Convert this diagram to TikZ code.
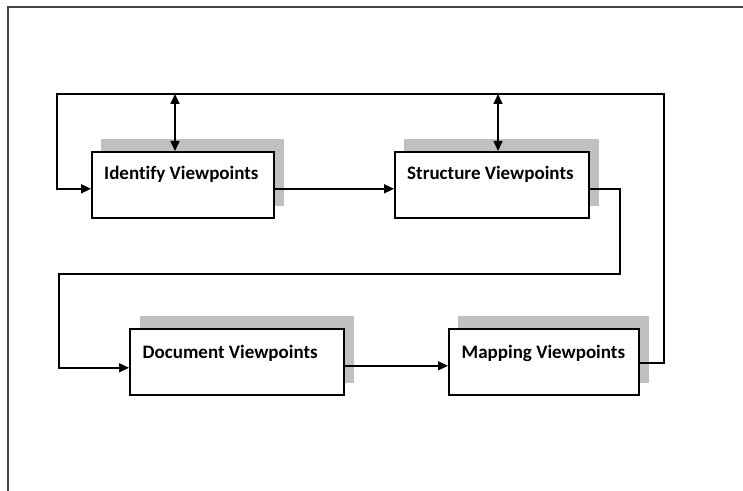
\documentclass[tikz,border=0pt]{standalone}
\usepackage{fontspec}
\setmainfont{Carlito}[Ligatures=NoCommon]
\usetikzlibrary{arrows.meta}
\definecolor{shadowgray}{RGB}{192,192,192}
\definecolor{framegray}{RGB}{70,70,70}
\tikzset{
  stagebox/.style={draw=black, fill=white, line width=1.6bp, minimum width=183bp, minimum height=66bp, anchor=north west, inner sep=0pt},
  stagelbl/.style={anchor=base west, inner sep=0pt, font=\fontsize{19bp}{22bp}\selectfont\bfseries},
  conn/.style={draw=black, line width=1.6bp},
  arr/.style={conn, -{Triangle[length=10bp, width=9bp]}},
  dblarr/.style={conn, {Triangle[length=10bp, width=9bp]}-{Triangle[length=10bp, width=9bp]}},
}
\begin{document}
\begin{tikzpicture}[x=1bp, y=-1bp]
\useasboundingbox (0,0) rectangle (743,491);
\fill[white] (0,0) rectangle (743,491);
% frame
\draw[framegray, line width=2bp] (7.5,491) -- (7.5,7.5) -- (743,7.5);

% shadows
\fill[shadowgray] (101,139) rectangle (284,206);
\fill[shadowgray] (404,139) rectangle (599,206);
\fill[shadowgray] (140,316) rectangle (354,383);
\fill[shadowgray] (458,316) rectangle (649,383);

% boxes
\node[stagebox, minimum width=182bp] (id) at (91,151) {};
\node[stagebox, minimum width=194bp] (st) at (394,151) {};
\node[stagebox, minimum width=214bp] (doc) at (129,328) {};
\node[stagebox, minimum width=190bp] (map) at (448,328) {};

% labels
\node[stagelbl] (idt) at ([shift={(13,29)}]id.north west) {Identify Viewpoints};
\node[stagelbl] (stt) at ([shift={(13,29)}]st.north west) {Structure Viewpoints};
\node[stagelbl] (doct) at ([shift={(13.5,30)}]doc.north west) {Document Viewpoints};
\node[stagelbl] (mapt) at ([shift={(13.5,30)}]map.north west) {Mapping Viewpoints};

% helper coordinates
\coordinate (tl) at (57,94);
\coordinate (tr) at (664,94);
\coordinate (r1) at (620,274);
\coordinate (l2) at (59,274);
\coordinate (ta) at (175,94);
\coordinate (tb) at (498,94);

% connectors
\draw[arr] ([yshift=-4bp]id.east) -- ([yshift=-4bp]st.west);
\draw[arr] ([yshift=-4bp]st.east) -| (r1) -- (l2) |- ([yshift=-6bp]doc.west);
\draw[arr] ([yshift=-4bp]doc.east) -- ([yshift=-4bp]map.west);
\draw[arr] ([yshift=-1bp]map.east) -| (tr) -- (tl) |- ([yshift=-4bp]id.west);
\draw[dblarr] (ta) -- (ta |- id.north);
\draw[dblarr] (tb) -- (tb |- st.north);
\end{tikzpicture}
\end{document}
